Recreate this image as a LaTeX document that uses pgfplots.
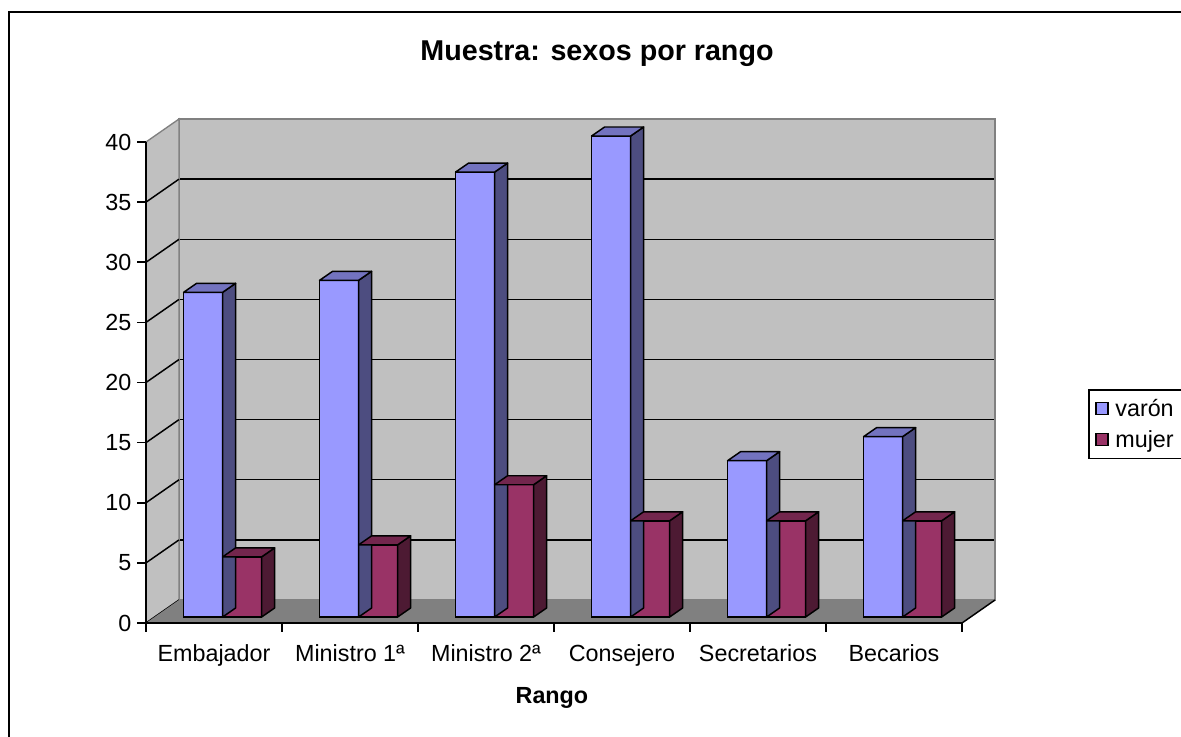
\documentclass[border=0pt]{standalone}
\usepackage{pgfplots}
\pgfplotsset{compat=1.18}
\usepackage{pgfplotstable}
\usepackage{fontspec}
\setmainfont{Liberation Sans}

\definecolor{wall}{RGB}{192,192,192}
\definecolor{floorc}{RGB}{128,128,128}
\definecolor{edgegray}{RGB}{128,128,128}
\definecolor{varon}{RGB}{153,153,255}
\definecolor{varontop}{RGB}{115,115,191}
\definecolor{varonside}{RGB}{77,77,128}
\definecolor{mujer}{RGB}{153,51,102}
\definecolor{mujertop}{RGB}{115,38,77}
\definecolor{mujerside}{RGB}{77,26,51}

% muestra por rango
\pgfplotstableread{
idx varon mujer
0 27 5
1 28 6
2 37 11
3 40 8
4 13 8
5 15 8
}\rangos

\pgfdeclareplotmark{nada}{}

% top and side faces of a column, value in \val (1 unit = 9.01875pt)
\pgfplotsset{
  cara3d/.style 2 args={
    scatter, only marks, mark=nada, forget plot,
    visualization depends on={y \as \val},
    scatter/@pre marker code/.code={%
      \pgfmathsetmacro\hb{-\val*9.01875}%
      \pgfmathsetmacro\hc{6.75-\val*9.01875}%
      \filldraw[fill=#2, draw=black, line width=1.1pt, line join=round]
        (14.625pt,0pt) -- (24.375pt,6.75pt) -- (24.375pt,\hc pt) -- (14.625pt,\hb pt) -- cycle;
      \filldraw[fill=#1, draw=black, line width=1.1pt, line join=round]
        (-14.625pt,0pt) -- (14.625pt,0pt) -- (24.375pt,6.75pt) -- (-4.875pt,6.75pt) -- cycle;
    },
    scatter/@post marker code/.code={},
  },
}

\newcommand\lbl{\fontsize{17.5}{21}\selectfont}

\begin{document}
\begin{tikzpicture}
\path[use as bounding box] (0pt,0pt) rectangle (885.75pt,-552pt);
\clip (0pt,0pt) rectangle (885.75pt,-552pt);
\fill[white] (0pt,0pt) rectangle (885.75pt,-552pt);

\begin{scope}[x=0.75pt,y=-0.75pt]
\draw[black, line width=1.5pt] (9,12) rectangle (1220,800);
\node[font=\bfseries\fontsize{21.5}{26}\selectfont] at (597,54) {Muestra: sexos por rango};
\end{scope}

% back wall
\begin{axis}[at={(134.25pt,-450pt)}, anchor=south west, scale only axis,
  width=612pt, height=360.75pt,
  xmin=0, xmax=6, ymin=0, ymax=40,
  xtick=\empty, ytick={5,10,...,35}, yticklabels={}, major tick length=0pt,
  ymajorgrids, grid style={black, line width=1.1pt},
  axis background/.style={fill=wall},
  axis line style={edgegray, line width=1pt}]
\end{axis}

% left wall and floor
\begin{scope}[x=0.75pt,y=-0.75pt]
\fill[wall] (146,623) -- (146,142) -- (179,119) -- (179,600) -- cycle;
\draw[edgegray, line width=1pt] (146,142) -- (179,119) -- (179,600);
\foreach \v in {0,5,...,35}
  \draw[black, line width=1.1pt] (146,623-12.025*\v) -- (179,600-12.025*\v);
\fill[floorc] (146,623) -- (962,623) -- (995,600) -- (179,600) -- cycle;
\draw[black, line width=1.1pt] (962,623) -- (995,600);
\end{scope}

% front axis: ticks and labels
\begin{axis}[at={(109.5pt,-467.25pt)}, anchor=south west, scale only axis,
  width=612pt, height=360.75pt,
  xmin=0, xmax=6, ymin=0, ymax=40,
  axis x line*=bottom, axis y line*=left,
  axis line style={black, line width=1.2pt, -},
  tick align=outside, major tick length=6.5pt,
  tick style={black, line width=1.2pt},
  /pgf/number format/assume math mode=true,
  ytick={0,5,...,40},
  yticklabel style={xshift=-1pt},
  xtick={0,...,6}, xticklabels={},
  extra x ticks={0.5,1.5,...,5.5},
  extra x tick labels={Embajador,Ministro 1ª,Ministro 2ª,Consejero,Secretarios,Becarios},
  extra x tick style={major tick length=0pt, xticklabel style={yshift=-13pt}},
  ticklabel style={font=\lbl},
  xlabel={\textbf{Rango}},
  xlabel style={font=\lbl, at={(axis description cs:0.4975,-0.155)}, anchor=center},
]
\end{axis}

% columns
\begin{axis}[at={(115.95pt,-462.75pt)}, anchor=south west, scale only axis,
  width=612pt, height=360.75pt,
  xmin=-0.5, xmax=5.5, ymin=0, ymax=40,
  hide axis, clip=false,
  legend style={at={(1.1439,0.4740)}, anchor=north west, draw=black,
    line width=1.2pt, fill=white, font=\lbl, row sep=5pt,
    inner xsep=5pt, inner ysep=5pt, /tikz/column sep=3pt},
  legend cell align=left,
]
\addplot[ybar, bar width=0.2868, bar shift=-0.1434, fill=varon, draw=black,
  line width=1.1pt, forget plot] table[x=idx, y=varon] {\rangos};
\addplot[cara3d={varontop}{varonside}] table[x expr=\thisrow{idx}-0.1434, y=varon] {\rangos};
\addplot[ybar, bar width=0.2868, bar shift=0.1434, fill=mujer, draw=black,
  line width=1.1pt, forget plot] table[x=idx, y=mujer] {\rangos};
\addplot[cara3d={mujertop}{mujerside}] table[x expr=\thisrow{idx}+0.1434, y=mujer] {\rangos};

\addlegendimage{legend image code/.code={\filldraw[fill=varon, draw=black, line width=0.9pt] (0pt,-4.5pt) rectangle (9pt,4.5pt);}}
\addlegendentry{varón\hspace*{30pt}}
\addlegendimage{legend image code/.code={\filldraw[fill=mujer, draw=black, line width=0.9pt] (0pt,-4.5pt) rectangle (9pt,4.5pt);}}
\addlegendentry{mujer\hspace*{30pt}}
\end{axis}
\end{tikzpicture}
\end{document}
